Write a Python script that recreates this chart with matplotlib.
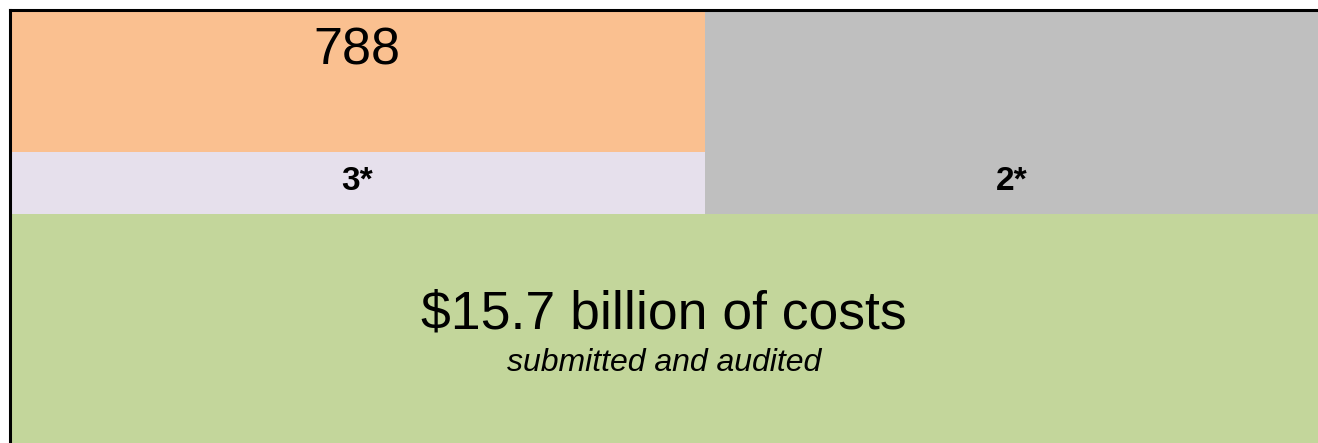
import matplotlib.pyplot as plt
from matplotlib.patches import Rectangle

plt.rcParams['font.family'] = ['Liberation Sans', 'DejaVu Sans']

# tiles of the mosaic (shares of the visible frame)
top_labels = ['788', '3*', '2*']
top_colors = ['#FAC090', '#E6E0EC', '#BFBFBF']
left_share = 0.531          # width share of the left column
left_rows = [0.328, 0.143]  # heights of the two left tiles
top_band = sum(left_rows)   # height of the upper band

main_label = '$15.7 billion of costs'
main_sub = 'submitted and audited'
main_color = '#C3D69B'

fig = plt.figure(figsize=(13.18, 4.43), dpi=100)
ax = fig.add_axes([10 / 1318, 0, 1308 / 1318, 433 / 443])
ax.set_xlim(0, 1)
ax.set_ylim(0, 1)
ax.set_xticks([])
ax.set_yticks([])
for s in ['right', 'bottom']:
    ax.spines[s].set_visible(False)
for s in ['left', 'top']:
    ax.spines[s].set_linewidth(2.2)
    ax.spines[s].set_zorder(5)

# bottom tile
ax.add_patch(Rectangle((0, 0), 1, 1 - top_band, facecolor=main_color, edgecolor='none'))
ax.text(0.5, 1 - top_band - 0.232, main_label, ha='center', va='center', fontsize=38.5)
ax.text(0.5, 1 - top_band - 0.345, main_sub, ha='center', va='center', fontsize=23,
        style='italic')

# left column: orange over lavender
y = 1
for lab, col, h in zip(top_labels[:2], top_colors[:2], left_rows):
    ax.add_patch(Rectangle((0, y - h), left_share, h, facecolor=col, edgecolor='none'))
    if lab == '788':
        ax.text(left_share / 2, y - 0.095, lab, ha='center', va='center', fontsize=37.5)
    else:
        ax.text(left_share / 2, y - h / 2 + 0.004, lab, ha='center', va='center',
                fontsize=24, fontweight='bold')
    y -= h

# right column: gray
ax.add_patch(Rectangle((left_share, 1 - top_band), 1 - left_share, top_band,
                       facecolor=top_colors[2], edgecolor='none'))
ax.text((1 + left_share) / 2, 1 - top_band + left_rows[1] / 2 + 0.004, top_labels[2],
        ha='center', va='center', fontsize=24, fontweight='bold')

fig.savefig('out.png', dpi=100)
